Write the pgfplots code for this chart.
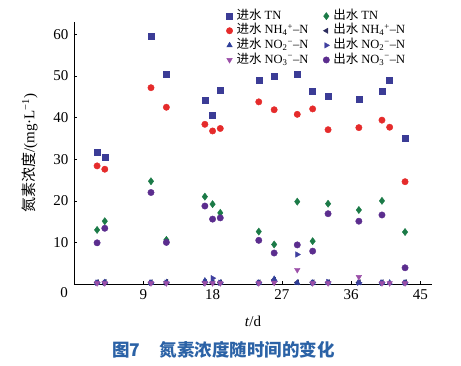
\documentclass[border=0pt]{standalone}
\usepackage{fontspec}
\setmainfont{Liberation Serif}
\newfontfamily\cjk{Noto Sans CJK SC}
\usepackage{pgfplots}
\usepackage{pgfplotstable}
\pgfplotsset{compat=1.18}
\definecolor{cTNi}{HTML}{3B3C96}
\definecolor{cNHi}{HTML}{E52B2B}
\definecolor{cNO2i}{HTML}{2F3F9A}
\definecolor{cNO3i}{HTML}{9B4FA8}
\definecolor{cTNo}{HTML}{1B7A47}
\definecolor{cNHo}{HTML}{2D2D5E}
\definecolor{cNO2o}{HTML}{3F3F9F}
\definecolor{cNO3o}{HTML}{5B2D8E}
\definecolor{capblue}{HTML}{2B62A6}

\pgfplotstableread{
d v
3 31.6
4 30.6
10 59.6
12 50.5
17 44.2
18 40.7
19 46.5
24 49.1
26 49.9
29 50.5
31 46.3
33 45.1
37 44.5
40 46.4
41 48.9
43 35.1
}\TNin
\pgfplotstableread{
d v
3 28.4
4 27.6
10 47.2
12 42.5
17 38.4
18 36.8
19 37.4
24 43.8
26 41.9
29 40.8
31 42.1
33 37.1
37 37.6
40 39.4
41 37.7
43 24.6
}\NHin
\pgfplotstableread{
d v
3 0.3
4 0.4
10 0.3
12 0.4
17 0.8
18 0.4
19 0.3
24 0.3
26 1.2
29 0.3
31 0.3
33 0.3
37 0.3
40 0.3
41 0.3
43 0.3
}\NOtwoin
\pgfplotstableread{
d v
3 0.2
4 0.2
10 0.2
12 0.2
17 0.2
18 0.2
19 0.2
24 0.2
26 0.3
29 3.4
31 0.2
33 0.2
37 1.7
40 0.2
41 0.2
43 0.2
}\NOthreein
\pgfplotstableread{
d v
3 13.0
4 15.1
10 24.7
12 10.6
17 21.0
18 19.2
19 17.1
24 12.6
26 9.5
29 19.8
31 10.3
33 19.3
37 17.8
40 20.0
43 12.5
}\TNout
\pgfplotstableread{
d v
3 0.4
4 0.5
10 0.4
12 0.5
17 0.5
18 0.4
19 0.4
24 0.4
26 1.0
29 0.4
31 0.4
33 0.4
37 0.4
40 0.4
43 0.4
}\NHout
\pgfplotstableread{
d v
3 0.3
4 0.3
10 0.3
12 0.3
17 0.3
18 1.4
19 0.3
24 0.3
26 0.6
29 7.1
31 0.3
33 0.5
37 0.3
40 0.3
43 0.3
}\NOtwoout
\pgfplotstableread{
d v
3 9.9
4 13.4
10 22.0
12 10.0
17 18.75
18 15.6
19 15.9
24 10.5
26 7.45
29 9.4
31 7.9
33 16.9
37 15.1
40 16.6
43 3.9
}\NOthreeout

\begin{document}
\begin{tikzpicture}
\useasboundingbox (-74pt,-82pt) rectangle (387pt,284pt);
\begin{axis}[
  at={(0,0)}, anchor=south west,
  scale only axis, width=358pt, height=262pt,
  xmin=0, xmax=46.5, ymin=0, ymax=63,
  axis lines*=left,
  axis line style={line width=0.8pt},
  xtick={9,18,27,36,45}, ytick={10,20,...,60},
  tick align=inside, major tick length=3pt,
  tick style={black, line width=0.6pt},
  /pgf/number format/assume math mode=true,
  ticklabel style={font=\fontsize{15}{15}\selectfont},
  xticklabel style={yshift=-2pt},
  yticklabel style={xshift=-2pt},
  xlabel={\textit{t}/d},
  xlabel style={font=\fontsize{15}{15}\selectfont, yshift=-10pt},
  ylabel={{\cjk 氮素浓度}/(mg·L\textsuperscript{−1})},
  ylabel style={font=\fontsize{15}{15}\selectfont, yshift=9pt},
  clip=false,
  legend columns=2,
  legend cell align=left,
  legend image code/.code={\draw[mark repeat=1,#1] plot coordinates {(0pt,0pt)};},
  legend style={draw=none, fill=none, inner sep=0pt,
    at={(rel axis cs:0.425,1.05)}, anchor=north west,
    font=\fontsize{12.5}{13}\selectfont,
    nodes={inner sep=0.8pt, text height=9.5pt, text depth=3pt},
    row sep=0.5pt,
    /tikz/every odd column/.append style={column sep=3pt},
    /tikz/every even column/.append style={column sep=14pt}},
]
\addplot[only marks, mark=square*, mark size=3pt, color=cTNi] table[x=d,y=v] {\TNin};
\addlegendentry{{\cjk 进水} TN}
\addplot[only marks, mark=diamond*, mark size=3.6pt, color=cTNo] table[x=d,y=v] {\TNout};
\addlegendentry{{\cjk 出水} TN}
\addplot[only marks, mark=*, mark size=3.2pt, color=cNHi] table[x=d,y=v] {\NHin};
\addlegendentry{{\cjk 进水} NH\textsubscript{4}\textsuperscript{+}–N}
\addplot[only marks, mark=triangle*, mark size=3pt, mark options={rotate=90}, color=cNHo] table[x=d,y=v] {\NHout};
\addlegendentry{{\cjk 出水} NH\textsubscript{4}\textsuperscript{+}–N}
\addplot[only marks, mark=triangle*, mark size=3.2pt, color=cNO2i] table[x=d,y=v] {\NOtwoin};
\addlegendentry{{\cjk 进水} NO\textsubscript{2}\textsuperscript{−}–N}
\addplot[only marks, mark=triangle*, mark size=3.2pt, mark options={rotate=-90}, color=cNO2o] table[x=d,y=v] {\NOtwoout};
\addlegendentry{{\cjk 出水} NO\textsubscript{2}\textsuperscript{−}–N}
\addplot[only marks, mark=triangle*, mark size=3.2pt, mark options={rotate=180}, color=cNO3i] table[x=d,y=v] {\NOthreein};
\addlegendentry{{\cjk 进水} NO\textsubscript{3}\textsuperscript{−}–N}
\addplot[only marks, mark=*, mark size=3.2pt, color=cNO3o] table[x=d,y=v] {\NOthreeout};
\addlegendentry{{\cjk 出水} NO\textsubscript{3}\textsuperscript{−}–N}
\node[anchor=north east, inner sep=0pt, font=\fontsize{15}{15}\selectfont] at (axis cs:0,0) [xshift=-6pt, yshift=-3pt] {0};
\end{axis}
\node[anchor=west, inner sep=0pt, text=capblue, font=\cjk\bfseries\fontsize{17.5}{18}\selectfont] at (38pt,-66pt) {图7\hspace{1.1em}氮素浓度随时间的变化};
\end{tikzpicture}
\end{document}
